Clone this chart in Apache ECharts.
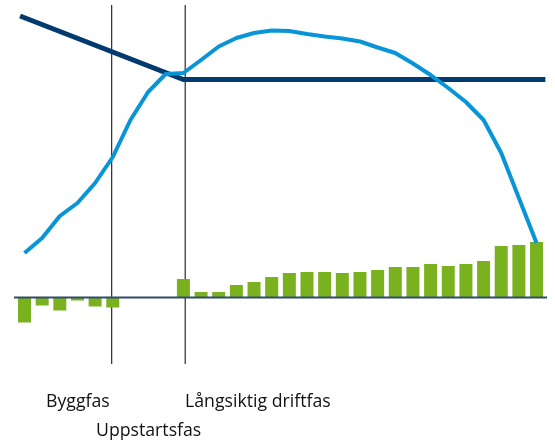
<!DOCTYPE html>
<html>
<head>
<meta charset="utf-8">
<script src="https://cdn.jsdelivr.net/npm/echarts@6/dist/echarts.min.js"></script>
<style>
  html, body { margin: 0; padding: 0; background: #ffffff; }
  #chart { width: 555px; height: 440px; }
</style>
</head>
<body>
<div id="chart"></div>
<script>
// Years of the project life cycle (one bar per year)
const years = Array.from({ length: 30 }, (_, i) => String(i + 1));

// Yearly net cash flow (negative during construction, none during start-up gap)
const cashFlow = [
  -25, -8, -13, -3, -9, -10, null, null, null,
  18.5, 5.5, 5.5, 12.5, 15.5, 20.5, 24.5, 25.5, 25.5, 24.5, 25.5,
  27.5, 30.5, 30.5, 33.5, 31.5, 33.5, 36.5, 51.5, 52.5, 55.5
];

// Curve over the years (rises, peaks during operation, then falls)
const curve = [
  44.5, 59.5, 81.5, 94.5, 114.5, 140.5, 177.5, 205.5, 223.5, 224.5,
  237.5, 251, 259.5, 264.5, 267, 266.5, 263.5, 261, 259, 256,
  250, 244.5, 234, 222.5, 209.5, 195.5, 177.5, 144.5, 99.5, 54.5
];

// Declining level until operation starts, then constant
const levelX = [0.25, 9.5, 30];
const levelY = [281.5, 218, 218];

// Phase boundaries on the continuous year scale
const phaseBounds = [5.44, 9.6];
const phaseSpan = [-66.5, 292.5];

// Phase names
const phaseNames = ['Byggfas', 'Uppstartsfas', 'Långsiktig driftfas'];

// Extent of the zero line on the continuous year scale
const zeroSpan = [-0.15, 30.55];

const chart = echarts.init(document.getElementById('chart'), null, { renderer: 'canvas' });

const boundarySeries = phaseBounds.map(b => ({
  type: 'line',
  xAxisIndex: 1,
  yAxisIndex: 0,
  data: [[b, phaseSpan[0]], [b, phaseSpan[1]]],
  symbol: 'none',
  clip: false,
  silent: true,
  z: 1,
  lineStyle: { color: '#000000', width: 1 }
}));

const fontFamily = '"Open Sans", "Noto Sans", sans-serif';
const labelStyle = { fontSize: 17.7, fontFamily, fill: '#111111' };

chart.setOption({
  animation: false,
  backgroundColor: '#ffffff',
  grid: { left: 15.67, right: 9.63, top: 17.5, bottom: 62.5 },
  xAxis: [
    { type: 'category', data: years, show: false, boundaryGap: true },
    { type: 'value', min: 0, max: 30, show: false }
  ],
  yAxis: [
    { type: 'value', min: -80, max: 280, show: false }
  ],
  graphic: [
    { type: 'text', left: 46, top: 393, style: Object.assign({ text: phaseNames[0] }, labelStyle) },
    { type: 'text', left: 96, top: 422, style: Object.assign({ text: phaseNames[1] }, labelStyle) },
    { type: 'text', left: 185, top: 393, style: Object.assign({ text: phaseNames[2] }, labelStyle) }
  ],
  series: [
    ...boundarySeries,
    {
      type: 'bar',
      xAxisIndex: 0,
      data: cashFlow,
      barWidth: 13,
      itemStyle: { color: '#7ab21f' },
      z: 2
    },
    {
      type: 'line',
      xAxisIndex: 1,
      data: zeroSpan.map(x => [x, 0]),
      symbol: 'none',
      clip: false,
      silent: true,
      lineStyle: { color: '#2e4d6c', width: 2 },
      z: 3
    },
    {
      type: 'line',
      xAxisIndex: 1,
      data: levelX.map((x, i) => [x, levelY[i]]),
      symbol: 'none',
      clip: false,
      lineStyle: { color: '#003a6e', width: 5, cap: 'butt', join: 'miter' },
      z: 4
    },
    {
      type: 'line',
      xAxisIndex: 0,
      data: curve,
      symbol: 'none',
      clip: false,
      lineStyle: { color: '#0795d8', width: 4, join: 'round' },
      z: 5
    }
  ]
});
</script>
</body>
</html>
